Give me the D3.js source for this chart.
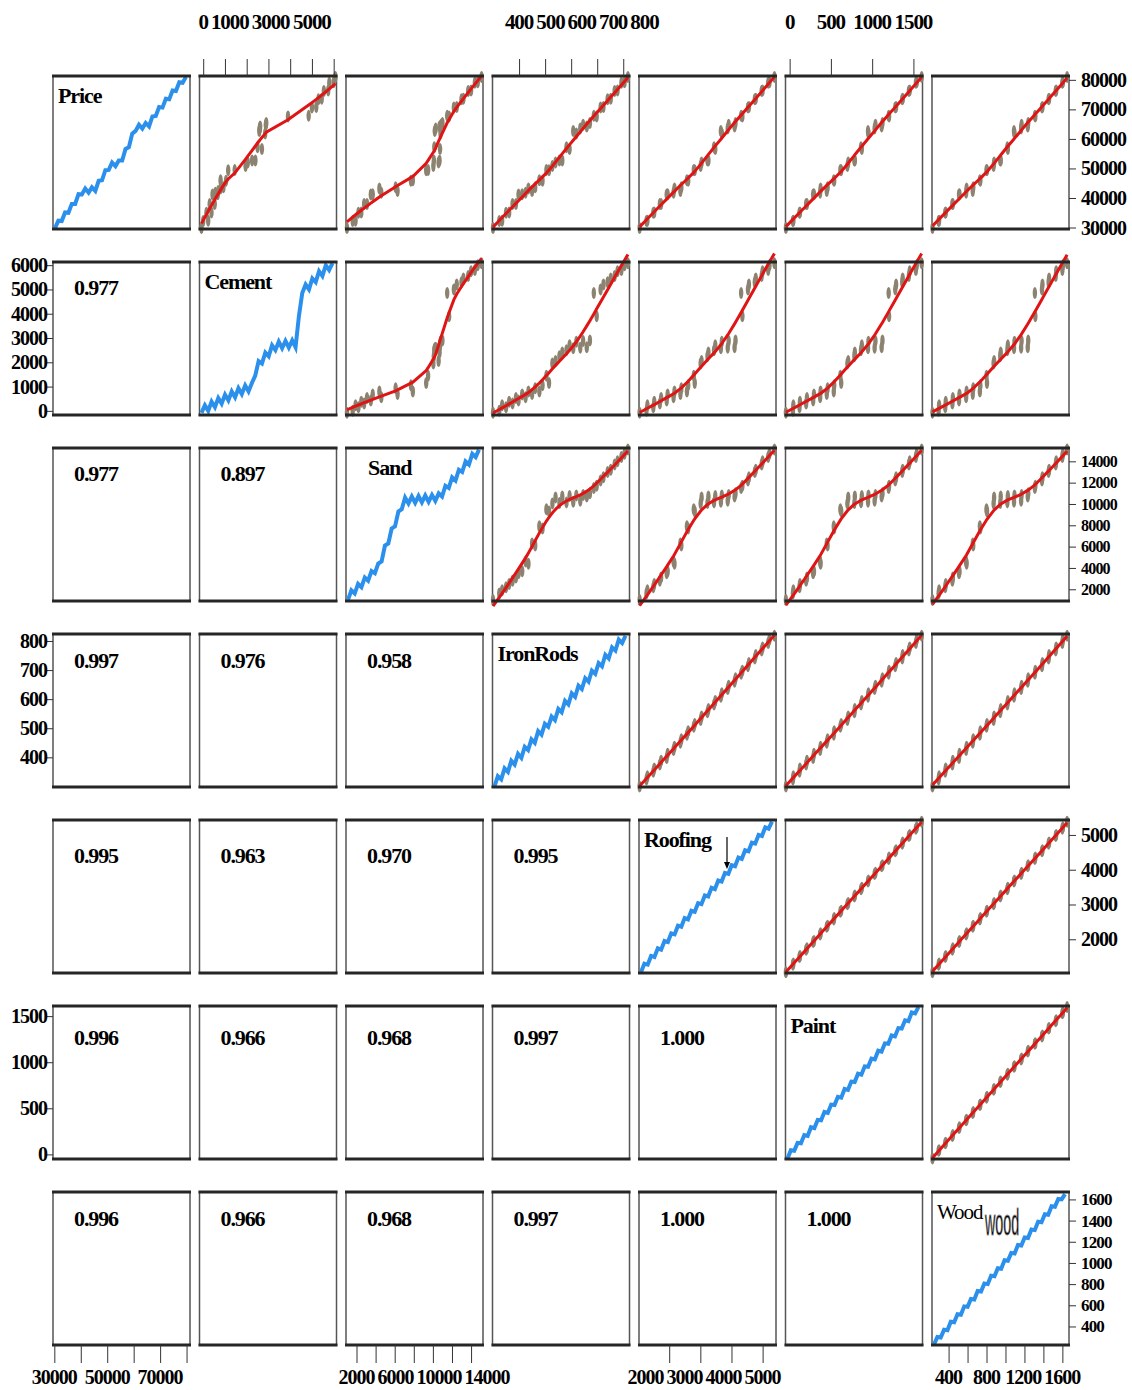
<!DOCTYPE html>
<html>
<head>
<meta charset="utf-8">
<script src="https://cdn.jsdelivr.net/npm/d3@7"></script>
<style>
  body { margin: 0; background: #fff; }
  svg text { font-family: "Liberation Serif", "Times New Roman", serif; font-weight: bold; fill: #000; letter-spacing: -0.05em; }
</style>
</head>
<body>
<svg id="chart" width="1132" height="1390"></svg>
<script>
const variables = ['Price', 'Cement', 'Sand', 'IronRods', 'Roofing', 'Paint', 'Wood']

// values (one point per period)
const price = [29800, 32300, 32200, 35100, 35000, 38000, 38000, 41300, 41200, 43200, 41800, 43600, 42400, 45800, 46000, 49400, 49500, 52000, 50800, 52700, 52700, 56600, 57200, 61800, 62700, 64800, 63500, 65400, 64200, 67600, 67800, 70800, 70600, 73600, 73400, 76400, 76200, 79200, 79000, 81000]
const cement = [-80, 230, 0, 380, 150, 530, 300, 670, 430, 800, 560, 930, 690, 1050, 800, 1150, 1450, 2050, 1950, 2400, 2250, 2700, 2500, 2850, 2580, 2880, 2600, 2900, 2620, 3900, 4850, 5200, 5000, 5450, 5300, 5750, 5550, 6000, 5800, 6080]
const sand = [1000, 1900, 1600, 2500, 2200, 3100, 2800, 3700, 3500, 4400, 4600, 6100, 6300, 7700, 7900, 9300, 9500, 10600, 10050, 10700, 10100, 10750, 10150, 10800, 10200, 10850, 10300, 11000, 10700, 11700, 11500, 12500, 12200, 13200, 13000, 14000, 13700, 14700, 14400, 15100]
const ironRods = [300, 335, 324, 362, 350, 388, 375, 412, 398, 436, 425, 462, 450, 490, 478, 515, 505, 540, 528, 566, 555, 594, 582, 620, 608, 646, 635, 672, 660, 698, 687, 724, 713, 752, 740, 778, 767, 805, 793, 818]
const roofing = [1050, 1300, 1270, 1520, 1490, 1740, 1700, 1950, 1920, 2170, 2140, 2390, 2360, 2610, 2570, 2820, 2790, 3040, 3010, 3260, 3230, 3480, 3440, 3690, 3660, 3910, 3880, 4130, 4100, 4350, 4310, 4560, 4530, 4780, 4750, 5000, 4970, 5220, 5180, 5380]
const paint = [-45, 45, 40, 125, 120, 210, 200, 295, 285, 375, 370, 460, 450, 540, 535, 625, 615, 710, 700, 790, 785, 875, 865, 955, 950, 1040, 1030, 1125, 1115, 1205, 1200, 1290, 1280, 1370, 1365, 1455, 1445, 1540, 1530, 1600]
const wood = [230, 300, 295, 370, 365, 445, 440, 515, 510, 590, 585, 660, 655, 735, 730, 805, 800, 880, 875, 950, 945, 1025, 1020, 1095, 1090, 1170, 1165, 1240, 1235, 1315, 1310, 1390, 1385, 1460, 1455, 1535, 1530, 1605, 1600, 1650]
const series = [price, cement, sand, ironRods, roofing, paint, wood]

// axis ranges of each variable
const domains = [[29500, 81300], [-170, 6130], [900, 15250], [298, 824], [1030, 5430], [-50, 1610], [225, 1670]]

// correlation labels of the lower panels, row by row
const correlations = [
  [],
  ['0.977'],
  ['0.977', '0.897'],
  ['0.997', '0.976', '0.958'],
  ['0.995', '0.963', '0.970', '0.995'],
  ['0.996', '0.966', '0.968', '0.997', '1.000'],
  ['0.996', '0.966', '0.968', '0.997', '1.000', '1.000']
]

// ticks and tick labels
const cementTicks = [0, 1000, 2000, 3000, 4000, 5000, 6000]
const cementTopLabels = [0, 1000, 3000, 5000]
const ironTicks = [400, 500, 600, 700, 800]
const paintTicks = [0, 500, 1000, 1500]
const priceTicks = [30000, 40000, 50000, 60000, 70000, 80000]
const priceBottomLabels = [30000, 50000, 70000]
const sandTicks = [2000, 4000, 6000, 8000, 10000, 12000, 14000]
const sandBottomLabels = [2000, 6000, 10000, 14000]
const roofingTicks = [2000, 3000, 4000, 5000]
const woodTicks = [400, 600, 800, 1000, 1200, 1400, 1600]
const woodBottomLabels = [400, 800, 1200, 1600]

const W = 137
const H = 153
const N = price.length
const svg = d3.select('#chart')
const colX = d3.scaleLinear().domain([0, 6]).range([53, 932])
const rowY = d3.scaleLinear().domain([0, 6]).range([76, 1192])
const xs = (v, c) => d3.scaleLinear().domain(domains[v]).range([colX(c), colX(c) + W])
const ys = (v, r) => d3.scaleLinear().domain(domains[v]).range([rowY(r) + H, rowY(r)])
// vertical place of the correlation text in each row
const corrOffset = [0, 33, 33, 34, 43, 39, 34]

// local weighted regression, like panel.smooth
function lowess (xv, yv, f) {
  const order = d3.range(xv.length).sort((a, b) => xv[a] - xv[b])
  const X = order.map(i => xv[i])
  const Y = order.map(i => yv[i])
  const r = Math.max(3, Math.round(f * X.length))
  return X.map(x0 => {
    const d = X.map(x => Math.abs(x - x0)).sort((a, b) => a - b)
    const h = d[Math.min(r, d.length - 1)] * 1.001 + 1e-9
    let sw = 0, sx = 0, sy = 0, sxx = 0, sxy = 0
    X.forEach((x, j) => {
      const u = Math.abs(x - x0) / h
      if (u >= 1) return
      const w = Math.pow(1 - u * u * u, 3)
      sw += w; sx += w * x; sy += w * Y[j]; sxx += w * x * x; sxy += w * x * Y[j]
    })
    const mx = sx / sw
    const my = sy / sw
    const vx = sxx / sw - mx * mx
    const b = vx > 1e-12 ? (sxy / sw - mx * my) / vx : 0
    return [x0, my + b * (x0 - mx)]
  })
}

const panels = svg.append('g')
for (let r = 0; r < 7; r++) {
  for (let c = 0; c < 7; c++) {
    const x = colX(c)
    const y = rowY(r)
    const g = panels.append('g')
    g.append('rect').attr('x', x).attr('y', y).attr('width', W).attr('height', H)
      .attr('fill', '#fff').attr('stroke', '#555').attr('stroke-width', 1.5)

    if (r === c) {
      const ix = d3.scaleLinear().domain([0, N - 1]).range([x + 2, x + W - 4])
      const sy = ys(r, r)
      g.append('path')
        .datum(series[r])
        .attr('fill', 'none')
        .attr('stroke', '#2b8fec')
        .attr('stroke-width', 4)
        .attr('d', d3.line().x((d, i) => ix(i)).y(d => sy(d)))
    } else if (r < c) {
      const sx = xs(c, c)
      const sy = ys(r, r)
      const pts = series[c].map((v, k) => [v, series[r][k]])
      g.selectAll('ellipse').data(pts).enter().append('ellipse')
        .attr('cx', d => sx(d[0]))
        .attr('cy', d => sy(d[1]))
        .attr('rx', 2.2)
        .attr('ry', 6)
        .attr('fill', '#8c8270')
      g.append('path')
        .datum(lowess(series[c], series[r], 0.5))
        .attr('fill', 'none')
        .attr('stroke', '#e01414')
        .attr('stroke-width', 3)
        .attr('d', d3.line().x(d => sx(d[0])).y(d => sy(d[1])))
    } else {
      g.append('text')
        .attr('x', x + 21)
        .attr('y', y + corrOffset[r])
        .style('font-size', '22px')
        .text(correlations[r][c])
    }

    g.append('line').attr('x1', x - 1).attr('x2', x + W + 1).attr('y1', y).attr('y2', y)
      .attr('stroke', '#262626').attr('stroke-width', 3)
    g.append('line').attr('x1', x - 1).attr('x2', x + W + 1).attr('y1', y + H).attr('y2', y + H)
      .attr('stroke', '#262626').attr('stroke-width', 3)
  }
}

// diagonal names
variables.forEach((name, i) => {
  svg.append('text')
    .attr('x', colX(i) + (name === 'Sand' ? 22 : 5))
    .attr('y', rowY(i) + 27)
    .style('font-size', name === 'Wood' ? '21px' : '22px')
    .style('font-weight', name === 'Wood' ? 'normal' : 'bold')
    .text(name)
})
svg.append('text')
  .attr('transform', `translate(${colX(6) + 53},${rowY(6) + 43}) scale(0.55,1.45)`)
  .style('font-family', '"Liberation Sans Narrow", "Liberation Sans", Arial, sans-serif')
  .style('font-weight', 'normal')
  .style('letter-spacing', '0')
  .style('font-size', '26px')
  .style('stroke', '#888').style('stroke-width', 0.6)
  .text('wood')

// small arrow in the Roofing panel
svg.append('line')
  .attr('x1', colX(4) + 88).attr('x2', colX(4) + 88)
  .attr('y1', rowY(4) + 17).attr('y2', rowY(4) + 44)
  .attr('stroke', '#000').attr('stroke-width', 1.2)
svg.append('path')
  .attr('d', `M${colX(4) + 85},${rowY(4) + 42}L${colX(4) + 91},${rowY(4) + 42}L${colX(4) + 88},${rowY(4) + 49}Z`)
  .attr('fill', '#000')

const axes = svg.append('g')
function tickStyle (sel) {
  sel.select('.domain').remove()
  sel.selectAll('line').attr('stroke', '#333')
}

// push crowded horizontal labels apart, going left-to-right or right-to-left
function spread (sel, dir) {
  const nodes = sel.nodes()
  const widths = nodes.map(n => n.getComputedTextLength())
  const xsPos = nodes.map(n => +n.getAttribute('x'))
  if (dir === 'ltr') {
    for (let i = 1; i < nodes.length; i++) {
      const min = xsPos[i - 1] + widths[i - 1] / 2 + widths[i] / 2 + 3
      if (xsPos[i] < min) xsPos[i] = min
    }
  } else {
    for (let i = nodes.length - 2; i >= 0; i--) {
      const max = xsPos[i + 1] - widths[i + 1] / 2 - widths[i] / 2 - 3
      if (xsPos[i] > max) xsPos[i] = max
    }
  }
  nodes.forEach((n, i) => n.setAttribute('x', xsPos[i]))
}

// top axes
;[[1, cementTicks, cementTopLabels, 'ltr'], [3, ironTicks, ironTicks, 'ltr'], [5, paintTicks, paintTicks, 'ltr']].forEach(([c, ticks, labels, dir]) => {
  const s = xs(c, c)
  axes.append('g').attr('transform', `translate(0,${rowY(0)})`)
    .call(d3.axisTop(s).tickValues(ticks).tickSize(17).tickFormat(''))
    .call(tickStyle)
  const t = axes.append('g').selectAll('text').data(labels).enter().append('text')
    .attr('x', d => s(d)).attr('y', 29)
    .attr('text-anchor', 'middle')
    .style('font-size', '21px')
    .text(d => d)
  spread(t, dir)
})

// bottom axes
;[[0, priceTicks, priceBottomLabels, 'ltr'], [2, sandTicks, sandBottomLabels, 'ltr'], [4, roofingTicks, roofingTicks, 'rtl'], [6, woodTicks, woodBottomLabels, 'rtl']].forEach(([c, ticks, labels, dir]) => {
  const s = xs(c, c)
  axes.append('g').attr('transform', `translate(0,${rowY(6) + H})`)
    .call(d3.axisBottom(s).tickValues(ticks).tickSize(18).tickFormat(''))
    .call(tickStyle)
  const t = axes.append('g').selectAll('text').data(labels).enter().append('text')
    .attr('x', d => s(d)).attr('y', 1384)
    .attr('text-anchor', 'middle')
    .style('font-size', '20px')
    .text(d => d)
  spread(t, dir)
})

// left axes
;[[1, cementTicks], [3, ironTicks], [5, paintTicks]].forEach(([r, ticks]) => {
  const s = ys(r, r)
  axes.append('g').attr('transform', `translate(${colX(0)},0)`)
    .call(d3.axisLeft(s).tickValues(ticks).tickSize(6).tickFormat(''))
    .call(tickStyle)
  axes.selectAll(null).data(ticks).enter().append('text')
    .attr('x', colX(0) - 6).attr('y', d => s(d)).attr('dy', '0.35em')
    .attr('text-anchor', 'end')
    .style('font-size', '20px')
    .text(d => d)
})

// right axes
;[[0, priceTicks, 20], [2, sandTicks, 16], [4, roofingTicks, 20], [6, woodTicks, 17]].forEach(([r, ticks, size]) => {
  const s = ys(r, r)
  axes.append('g').attr('transform', `translate(${colX(6) + W},0)`)
    .call(d3.axisRight(s).tickValues(ticks).tickSize(7).tickFormat(''))
    .call(tickStyle)
  axes.selectAll(null).data(ticks).enter().append('text')
    .attr('x', colX(6) + W + 12).attr('y', d => s(d)).attr('dy', '0.35em')
    .attr('text-anchor', 'start')
    .style('font-size', size + 'px')
    .text(d => d)
})
</script>
</body>
</html>
